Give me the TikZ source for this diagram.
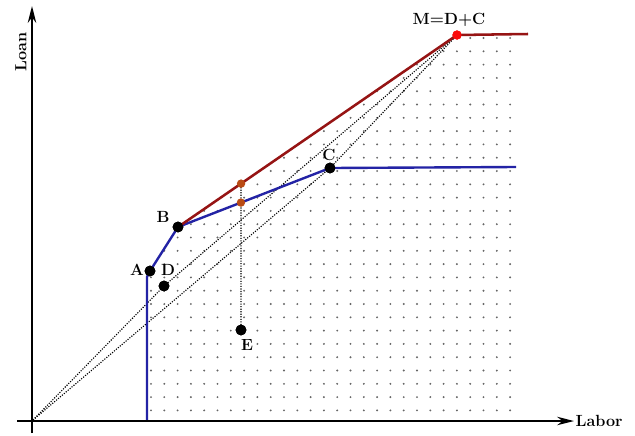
\documentclass[tikz,border=0pt]{standalone}
\usepackage{tikz}
\usetikzlibrary{arrows.meta,calc}
\definecolor{frontblue}{RGB}{35,35,165}
\definecolor{frontred}{RGB}{150,20,20}
\definecolor{midbrown}{RGB}{185,75,20}
\definecolor{topred}{RGB}{250,10,10}
\colorlet{dotgray}{black!60}

\begin{document}
\begin{tikzpicture}[x=0.025cm,y=-0.025cm,every node/.style={font=\fontsize{11.5}{13}\selectfont\bfseries},
    axis/.style={line width=1.4pt,-{Stealth[length=12pt,width=6pt]}},
    blueline/.style={line width=1.7pt,frontblue},
    redline/.style={line width=1.8pt,frontred},
    guide/.style={densely dotted,line width=0.8pt},
    pt/.style={circle,fill=black,inner sep=0pt,minimum size=0.27cm},
    midpt/.style={circle,fill=midbrown,inner sep=0pt,minimum size=0.21cm},
    toppt/.style={circle,fill=topred,inner sep=0pt,minimum size=0.23cm}]
  \fill[white] (0,0) rectangle (635,435);
  \useasboundingbox (0,0) rectangle (635,435);
  % feasible region
  \begin{scope}
    \clip (147,421) -- (147,278) -- (150,271) -- (178,227) -- (457,35) -- (520,35) -- (520,421) -- cycle;
    \foreach \i in {0,...,28}
      \foreach \j in {0,...,29}
        \fill[dotgray] ({151+13.3*\i},{38+13.3*\j}) circle[radius=0.75pt];
  \end{scope}
  % points
  \coordinate (O) at (33,420);
  \coordinate (Abot) at (147,421);
  \coordinate (Aknee) at (147,277);
  \coordinate (Cend) at (516,167);
  \coordinate (Mend) at (528,34);
  \node[pt] (A) at (150,271) {};
  \node[pt] (B) at (178,227) {};
  \node[pt] (C) at (330,168) {};
  \node[pt] (D) at (164,286) {};
  \node[pt] (E) at (241,330) {};
  \node[toppt] (M) at (457,35) {};
  \coordinate (P1) at ($(B.center)!0.226!(M.center)$);
  \coordinate (P2) at ($(B.center)!0.414!(C.center)$);
  % guides
  \draw[guide] (O) -- (D.center) -- (M.center);
  \draw[guide] (O) -- (C.center) -- (M.center);
  \draw[guide] (E.center) -- (P1);
  % frontiers
  \draw[blueline] (Abot) -- (Aknee) -- (A.center) -- (B.center) -- (C.center) -- (Cend);
  \draw[redline] (B.center) -- (M.center) -- (Mend);
  \node[pt] at (A) {};
  \node[pt] at (B) {};
  \node[pt] at (C) {};
  \node[pt] at (D) {};
  \node[pt] at (E) {};
  \node[toppt] at (M) {};
  \node[midpt] (Q1) at (P1) {};
  \node[midpt] (Q2) at (P2) {};
  % axes
  \coordinate (ybot) at (32,433);
  \coordinate (ytop) at (32,6);
  \coordinate (xleft) at (17,421);
  \coordinate (xright) at (574,421);
  \draw[axis] (ybot) -- (ytop);
  \draw[axis] (xleft) -- (xright);
  % labels
  \node[rotate=90] (loan) at (21,52) {Loan};
  \node[anchor=west,inner sep=1pt] (labor) at (xright) {Labor};
  \node (la) at (137,270) {A};
  \node (ld) at (168,270) {D};
  \node (lb) at (163,217) {B};
  \node (lc) at (329,155) {C};
  \node (le) at (247,345) {E};
  \node (lm) at (449,20) {M=D+C};
\end{tikzpicture}
\end{document}
